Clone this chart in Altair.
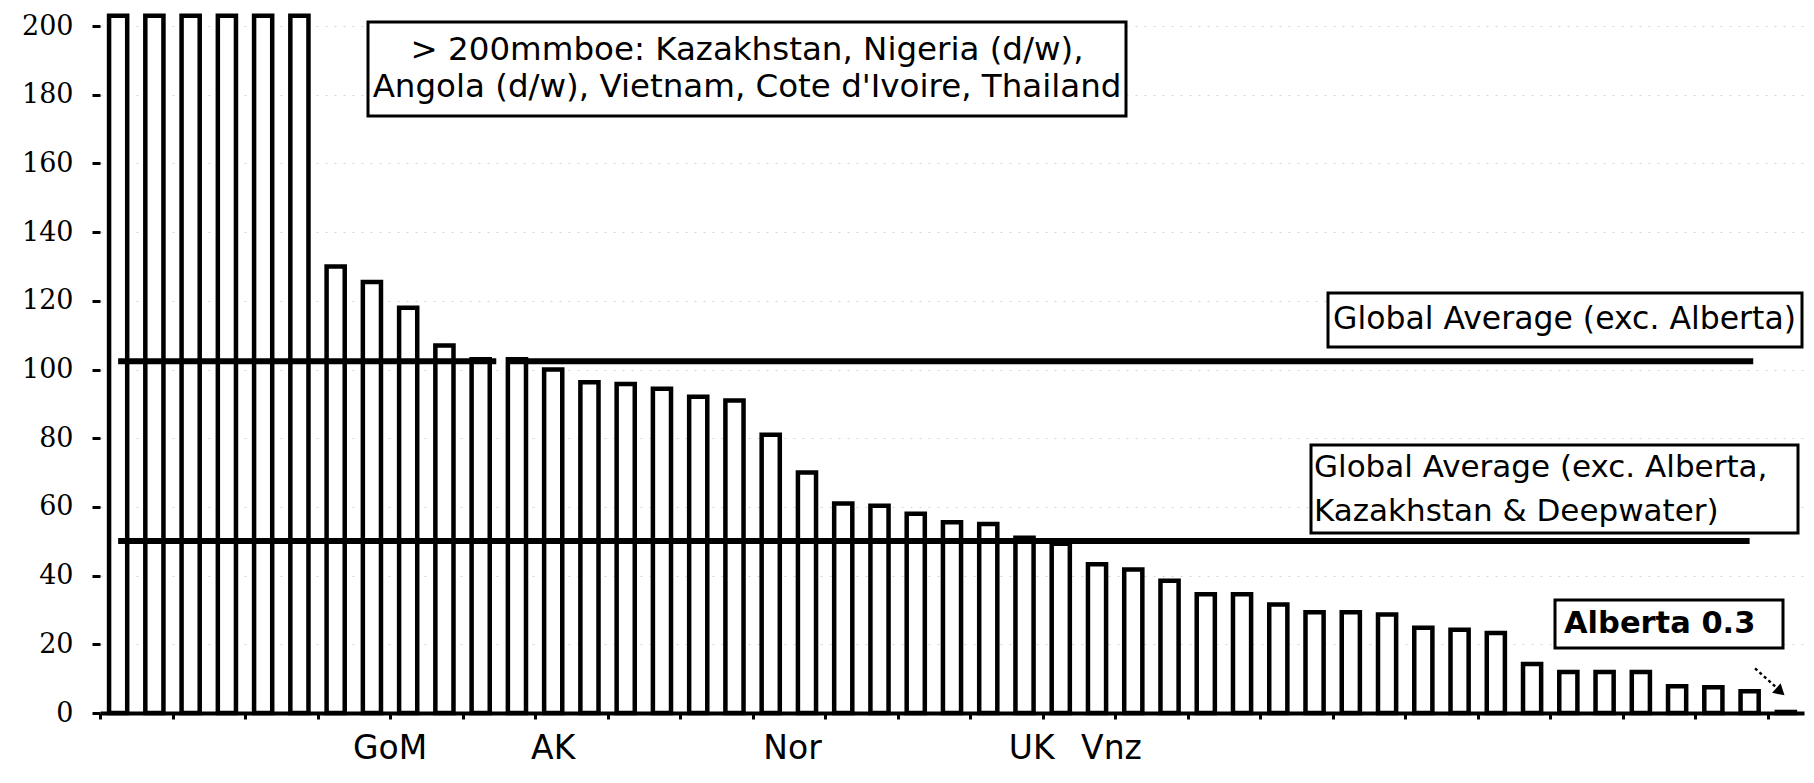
import altair as alt
import pandas as pd

# ---- data ----
categories = list(range(1, 48))  # 46 basins + Alberta (last)
values = [203, 203, 203, 203, 203, 203,
          130, 125.5, 118, 107, 103, 103, 100,
          96.3, 95.8, 94.4, 92.1, 91,
          81, 70, 61, 60.3, 58, 55.5, 55, 51, 49.3,
          43.3, 41.8, 38.5, 34.6, 34.6, 31.6, 29.3, 29.3, 28.7,
          24.8, 24.2, 23.3,
          14.3, 11.9, 11.9, 11.9,
          7.8, 7.5, 6.3,
          0.3]
cat_labels = ["GoM", "AK", "Nor", "UK", "Vnz"]
cat_label_pos = [8.5, 13.0, 19.6, 26.2, 28.4]
averages = [102.4, 50.1]
avg_texts = ["Global Average (exc. Alberta)",
             "Global Average (exc. Alberta,\nKazakhstan & Deepwater)"]
over_200_text = "> 200mmboe: Kazakhstan, Nigeria (d/w),\nAngola (d/w), Vietnam, Cote d'Ivoire, Thailand"
alberta_text = "Alberta 0.3"
y_ticks = list(range(0, 201, 20))

df = pd.DataFrame({"idx": categories, "value": values})
lab_df = pd.DataFrame({"label": cat_labels, "pos": cat_label_pos})

xscale = alt.Scale(domain=[0.5, 47.5], nice=False, zero=False)
yscale = alt.Scale(domain=[0, 200], nice=False)

xaxis = alt.Axis(values=[i + 0.5 for i in range(48)], labels=False, domain=True,
                 domainColor="black", domainWidth=4, tickSize=6, tickWidth=3,
                 tickColor="black", grid=False, title=None)
yaxis = alt.Axis(values=y_ticks, domain=False, tickSize=8, tickWidth=3, tickColor="black",
                 labelFont="DejaVu Serif", labelFontSize=27, labelColor="black",
                 labelPadding=19, grid=True, gridColor="#d4d4d4", gridDash=[2, 7],
                 gridWidth=1, title=None)

bars = alt.Chart(df).transform_calculate(
    lo="datum.idx - 0.25", hi="datum.idx + 0.25"
).mark_rect(fill="white", stroke="black", strokeWidth=4.5).encode(
    x=alt.X("lo:Q", scale=xscale, axis=xaxis),
    x2="hi:Q",
    y=alt.Y("value:Q", scale=yscale, axis=yaxis),
    y2=alt.datum(0),
)

one = pd.DataFrame({"k": [0]})

def seg(x1, x2, yv, w=6):
    return alt.Chart(one).mark_rule(color="black", strokeWidth=w, strokeCap="butt").encode(
        x=alt.X(datum=x1, type="quantitative", scale=xscale),
        x2=alt.datum(x2),
        y=alt.Y(datum=yv, type="quantitative", scale=yscale),
    )

line1a = seg(1.0, 11.43, averages[0])
line1b = seg(11.71, 46.1, averages[0])
line2 = seg(1.0, 46.0, averages[1])

arrow_shaft = alt.Chart(one).mark_rule(color="black", strokeWidth=2.5, strokeDash=[3, 3]).encode(
    x=alt.X(datum=46.15, type="quantitative", scale=xscale),
    x2=alt.datum(46.75),
    y=alt.Y(datum=13.0, type="quantitative", scale=yscale),
    y2=alt.datum(7.3),
)
arrow_head = alt.Chart(one).mark_point(shape="triangle-up", filled=True, color="black",
                                         opacity=1, size=160, angle=132).encode(
    x=alt.X(datum=46.85, type="quantitative", scale=xscale),
    y=alt.Y(datum=6.2, type="quantitative", scale=yscale),
)

def box(x1, x2, y1, y2):
    return alt.Chart(one).mark_rect(fill="white", stroke="black", strokeWidth=3).encode(
        x=alt.value(x1), x2=alt.value(x2), y=alt.value(y1), y2=alt.value(y2))

def txt(text, x, y, align="left", size=31, weight="normal", lh=37):
    return alt.Chart(pd.DataFrame({"t": [text]})).mark_text(
        font="DejaVu Sans", fontSize=size, fontWeight=weight, align=align,
        baseline="middle", lineBreak="\n", lineHeight=lh, color="black"
    ).encode(x=alt.value(x), y=alt.value(y), text="t:N")

box1 = box(268, 1026, -4, 90)
text1 = txt(over_200_text, 647, 24, align="center", size=32.5, lh=37)
box2 = box(1228, 1702, 267, 321)
text2 = txt(avg_texts[0], 1233, 294, size=31.5)
box3 = box(1211, 1698, 419, 507)
text3 = txt(avg_texts[1], 1214, 442, lh=44)
box4 = box(1455, 1683, 574, 622)
text4 = txt(alberta_text, 1464, 598, size=30.5, weight="bold")

xlabels = alt.Chart(lab_df).mark_text(font="DejaVu Sans", fontSize=33, align="center",
                                       baseline="alphabetic", color="black").encode(
    x=alt.X("pos:Q", scale=xscale),
    y=alt.value(733),
    text="label:N",
)

chart = alt.layer(
    bars, line1a, line1b, line2, arrow_shaft, arrow_head,
    box1, text1, box2, text2, box3, text3, box4, text4, xlabels
).properties(
    width=1704, height=687,
    autosize=alt.AutoSizeParams(type="none"),
    padding={"left": 92, "top": 18, "right": 2, "bottom": 56},
    background="white",
).configure_view(stroke=None)

chart.save("out.html", embed_options={"renderer": "svg", "actions": False})
